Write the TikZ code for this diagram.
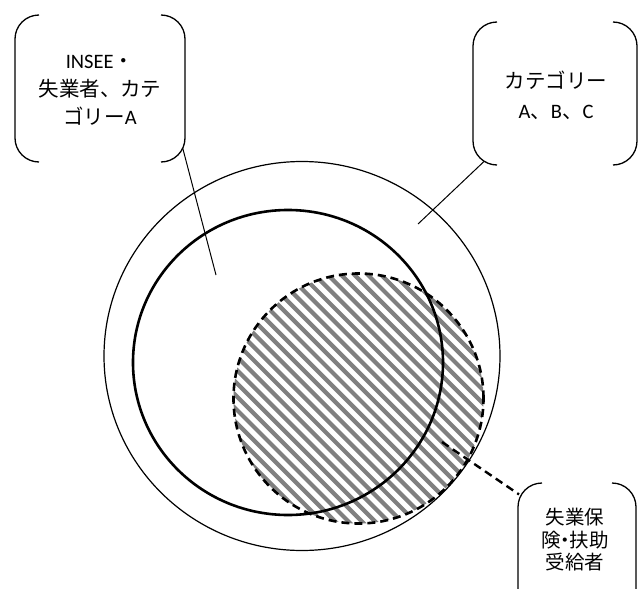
\documentclass[tikz,border=0pt]{standalone}
\usepackage{fontspec}
\setmainfont{Carlito}
\newfontfamily\cjk{Noto Sans CJK JP}
\newcommand\nakaguro{\makebox[0.45em]{\cjk ・}}
\begin{document}
\begin{tikzpicture}[x=1pt,y=-1pt]
\tikzset{
 outerc/.style={line width=1.2pt},
 thickc/.style={line width=2.6pt},
 dashc/.style={line width=2.6pt, dash pattern=on 8pt off 5pt},
 bracket/.style={line width=1.3pt, rounded corners=24pt},
 leader/.style={line width=1pt},
 dleader/.style={line width=2.4pt, dash pattern=on 8pt off 5pt},
 hatch/.style={line width=4.2pt, draw=black!50},
 lbl/.style={align=center, inner sep=0pt, font=\fontsize{20.5}{28}\selectfont},
 lblsmall/.style={align=center, inner sep=0pt, font=\fontsize{19.5}{22.5}\selectfont},
}
\useasboundingbox (0,0) rectangle (638,589);
\clip (0,0) rectangle (638,589);
\fill[white] (0,0) rectangle (638,589);

% hatch in the dashed circle
\begin{scope}
 \clip (358.5,398.5) circle [radius=125pt];
 \foreach \k in {-22,...,22}
  \draw[hatch] ({358.5+\k*13.3-200},{398.5-200}) -- ({358.5+\k*13.3+200},{398.5+200});
\end{scope}

% circles
\draw[outerc] (302,356) ellipse [x radius=198pt, y radius=194.5pt];
\draw[dashc] (358.5,398.5) circle [radius=125pt];
\draw[thickc] (288,362.5) ellipse [x radius=155pt, y radius=152.5pt];

% callout 1
\draw[bracket] (39,15) -- (15,15) -- (15,162) -- (39,162);
\draw[bracket] (161,15) -- (185,15) -- (185,162) -- (161,162);
\node[lbl] (t1) at (100,90) {INSEE{\cjk ・}\\{\cjk 失業者、カテ}\\{\cjk ゴリー}A};
\coordinate (c1a) at (182.7,148.1);
\coordinate (c1b) at (216,275);
\draw[leader] (c1a) -- (c1b);

% callout 2
\draw[bracket] (497,22) -- (473,22) -- (473,165) -- (497,165);
\draw[bracket] (613,22) -- (637,22) -- (637,165) -- (613,165);
\node[lbl, font=\fontsize{20.5}{30}\selectfont] (t2) at (556,95) {{\cjk カテゴリー}\\A{\cjk 、}B{\cjk 、}C};
\coordinate (c2a) at (484,161.5);
\coordinate (c2b) at (418,224);
\draw[leader] (c2a) -- (c2b);

% callout 3
\draw[bracket] (542,483) -- (518,483) -- (518,620) -- (542,620);
\draw[bracket] (612,483) -- (636,483) -- (636,620) -- (612,620);
\node[lblsmall] (t3) at (575,540) {{\cjk 失業保}\\{\cjk 険}\nakaguro{\cjk 扶助}\\{\cjk 受給者}};
\coordinate (c3a) at (442,442);
\coordinate (c3b) at (519,494.4);
\draw[dleader] (c3a) -- (c3b);
\end{tikzpicture}
\end{document}
